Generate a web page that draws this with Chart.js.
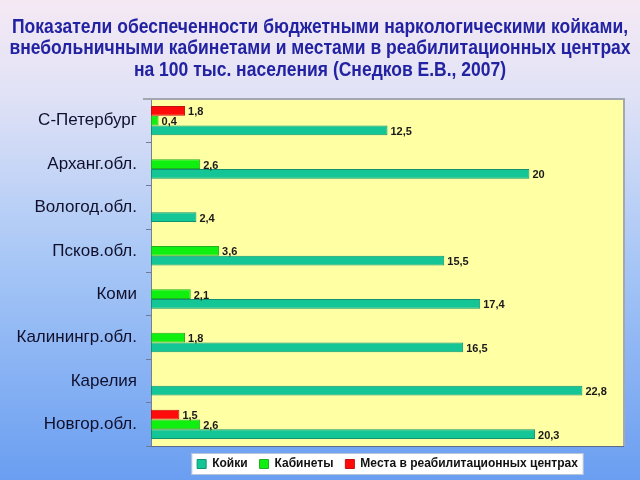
<!DOCTYPE html>
<html>
<head>
<meta charset="utf-8">
<script src="https://cdn.jsdelivr.net/npm/chart.js@4/dist/chart.umd.min.js"></script>
<style>
  html, body { margin: 0; padding: 0; background: #fff; }
  #chart { display: block; }
</style>
</head>
<body>
<canvas id="chart" width="640" height="480"></canvas>
<script>
// data
const regions = ['С-Петербург', 'Арханг.обл.', 'Вологод.обл.', 'Псков.обл.', 'Коми', 'Калинингр.обл.', 'Карелия', 'Новгор.обл.'];
const beds = [12.5, 20, 2.4, 15.5, 17.4, 16.5, 22.8, 20.3];
const offices = [0.4, 2.6, null, 3.6, 2.1, 1.8, null, 2.6];
const rehab = [1.8, null, null, null, null, null, null, 1.5];
const seriesNames = ['Койки', 'Кабинеты', 'Места в реабилитационных центрах'];
const titleLines = [
  'Показатели обеспеченности бюджетными наркологическими койками,',
  'внебольничными кабинетами и местами в реабилитационных центрах',
  'на 100 тыс. населения (Снедков Е.В., 2007)'
];

// background, plot fill, legend box
const backdrop = {
  id: 'backdrop',
  beforeDraw(chart) {
    const c = chart.ctx, a = chart.chartArea;
    c.save();
    const g = c.createLinearGradient(0, 0, 0, chart.height);
    g.addColorStop(0, '#f5e9f4');
    g.addColorStop(0.2, '#e0e2f6');
    g.addColorStop(0.55, '#a6c6f6');
    g.addColorStop(1, '#6a9ef1');
    c.fillStyle = g;
    c.fillRect(0, 0, chart.width, chart.height);
    c.fillStyle = '#ffffa4';
    c.fillRect(a.left, a.top, a.right - a.left, a.bottom - a.top);
    const boxes = chart.legend.legendHitBoxes;
    if (boxes && boxes.length) {
      let l = Infinity, r = -Infinity, t = Infinity, b = -Infinity;
      boxes.forEach(h => {
        l = Math.min(l, h.left); r = Math.max(r, h.left + h.width);
        t = Math.min(t, h.top); b = Math.max(b, h.top + h.height);
      });
      c.fillStyle = '#ffffff';
      c.fillRect(l - 5, t - 4, r - l + 10, b - t + 8);
      c.strokeStyle = '#b8c4d8';
      c.lineWidth = 1;
      c.strokeRect(l - 5.5, t - 4.5, r - l + 11, b - t + 9);
    }
    c.restore();
  },
  afterDatasetsDraw(chart) {
    const c = chart.ctx, a = chart.chartArea;
    c.save();
    c.strokeStyle = '#a4a6b0';
    c.lineWidth = 2;
    c.beginPath();
    c.moveTo(a.left - 8, a.top);
    c.lineTo(a.right, a.top);
    c.lineTo(a.right, a.bottom);
    c.stroke();
    c.strokeStyle = '#5d6a8a';
    c.lineWidth = 1;
    c.beginPath();
    c.moveTo(a.left, a.bottom + 0.5);
    c.lineTo(a.right, a.bottom + 0.5);
    c.stroke();
    c.restore();
  }
};

// title in a condensed bold face, squeezed to the reference width
const heading = {
  id: 'heading',
  afterDraw(chart) {
    const c = chart.ctx;
    c.save();
    c.font = 'bold 21px "Liberation Sans", Arial, sans-serif';
    c.fillStyle = '#2222a2';
    c.textAlign = 'center';
    c.textBaseline = 'middle';
    const s = Math.min(1, 616 / c.measureText(titleLines[0]).width);
    titleLines.forEach((line, i) => {
      c.save();
      c.translate(chart.width / 2, 27 + i * 21.7);
      c.scale(s, 1);
      c.fillText(line, 0, 0);
      c.restore();
    });
    c.restore();
  }
};

// value labels at bar ends, comma decimals
const valueLabels = {
  id: 'valueLabels',
  afterDatasetsDraw(chart) {
    const c = chart.ctx;
    c.save();
    c.font = 'bold 11px "Liberation Sans", Arial, sans-serif';
    c.fillStyle = '#1a1a1a';
    c.textAlign = 'left';
    c.textBaseline = 'middle';
    chart.data.datasets.forEach((ds, i) => {
      chart.getDatasetMeta(i).data.forEach((el, j) => {
        const v = ds.data[j];
        if (v == null) return;
        c.fillText(String(v).replace('.', ','), el.x + 3, el.y + 1.5);
      });
    });
    c.restore();
  }
};

new Chart(document.getElementById('chart'), {
  type: 'bar',
  data: {
    labels: regions,
    datasets: [
      { label: seriesNames[2], data: rehab, backgroundColor: '#ff0a0a', borderColor: '#c01010' },
      { label: seriesNames[1], data: offices, backgroundColor: '#10f010', borderColor: '#20b020' },
      { label: seriesNames[0], data: beds, backgroundColor: '#14c596', borderColor: '#0e9270' }
    ]
  },
  options: {
    responsive: false,
    animation: false,
    indexAxis: 'y',
    datasets: {
      bar: { borderWidth: 1, categoryPercentage: 0.675, barPercentage: 1.0, borderSkipped: false }
    },
    layout: { padding: { left: 0, right: 16, bottom: 0, top: 99 } },
    scales: {
      x: { min: 0, max: 25, display: false },
      y: {
        afterFit(s) { s.width = 151; },
        grid: { drawOnChartArea: false, drawTicks: true, tickLength: 5, color: '#6d7a9a', offset: true },
        border: { display: true, color: '#7a8090', width: 1 },
        ticks: {
          color: '#10102c',
          padding: 9,
          font: { family: '"Liberation Sans", Arial, sans-serif', size: 17 }
        }
      }
    },
    plugins: {
      title: { display: false },
      legend: {
        position: 'bottom',
        fullSize: false,
        reverse: true,
        labels: {
          boxWidth: 9,
          boxHeight: 9,
          padding: 12,
          color: '#111111',
          font: { family: '"Liberation Sans", Arial, sans-serif', size: 12, weight: 'bold' }
        }
      },
      tooltip: { enabled: false }
    }
  },
  plugins: [backdrop, heading, valueLabels]
});
</script>
</body>
</html>
